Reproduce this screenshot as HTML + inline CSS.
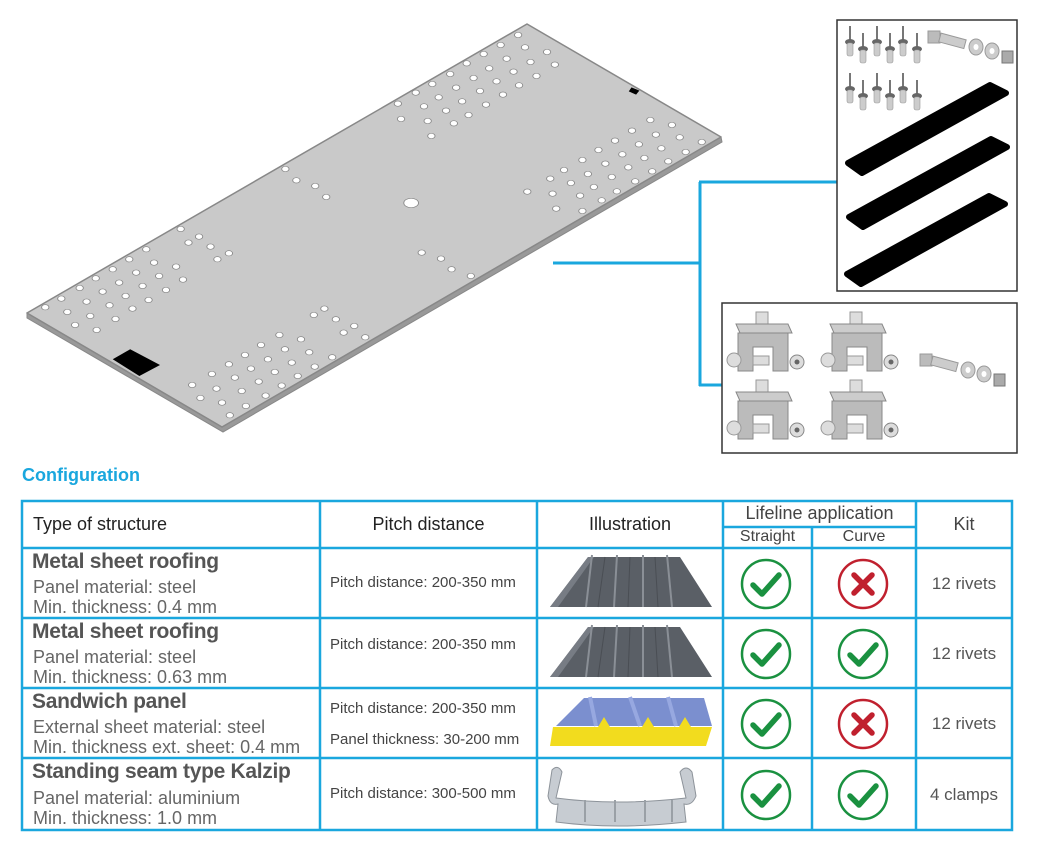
<!DOCTYPE html>
<html><head><meta charset="utf-8"><style>
body{margin:0;width:1040px;height:850px;background:#fff;position:relative;overflow:hidden;font-family:"Liberation Sans",sans-serif}
.a{position:absolute;white-space:nowrap}
.h{font-size:18px;color:#222}
.t{font-size:21px;font-weight:bold;color:#555;letter-spacing:-0.3px}
.s{font-size:18px;color:#666;line-height:20px}
.p{font-size:15px;color:#444}
.k{font-size:17px;color:#555}
</style></head><body>
<svg class="a" style="left:0;top:0" width="1040" height="850">
<defs>
<g id="rv"><line x1="0" y1="-16" x2="0" y2="0" stroke="#777" stroke-width="2"/><ellipse cx="0" cy="0" rx="5" ry="3" fill="#666"/><rect x="-3" y="1" width="6" height="13" rx="2" fill="#ccc" stroke="#999" stroke-width="0.6"/></g>
<g id="cl"><rect x="-4" y="-16" width="12" height="12" fill="#ddd" stroke="#999"/><polygon points="-24,-4 28,-4 32,5 -20,5" fill="#ccc" stroke="#888"/><path d="M-22,5 h50 v38 h-15 v-24 h-20 v24 h-15z" fill="#bbb" stroke="#888"/><circle cx="-26" cy="32" r="7" fill="#ddd" stroke="#999"/><circle cx="37" cy="34" r="7" fill="#ddd" stroke="#888"/><circle cx="37" cy="34" r="2.5" fill="#666"/><rect x="-7" y="28" width="16" height="9" fill="#ddd" stroke="#999"/></g>
<g id="bolt"><rect x="0" y="-6" width="12" height="12" fill="#bbb" stroke="#999"/><rect x="12" y="-4" width="26" height="9" fill="#ccc" stroke="#999" transform="rotate(15 12 0)"/><ellipse cx="48" cy="10" rx="7" ry="8" fill="#ccc" stroke="#999"/><ellipse cx="48" cy="10" rx="2.5" ry="3" fill="#fff"/><ellipse cx="64" cy="14" rx="7" ry="8" fill="#ccc" stroke="#999"/><ellipse cx="64" cy="14" rx="2.5" ry="3" fill="#fff"/><rect x="74" y="14" width="11" height="12" fill="#aaa" stroke="#777"/></g>
<g id="ok"><circle r="24" fill="#fff" stroke="#1a9140" stroke-width="2.5"/><path d="M-13,1 L-4,10 L13,-9" fill="none" stroke="#1a9140" stroke-width="5.5" stroke-linecap="round" stroke-linejoin="round"/></g>
<g id="no"><circle r="24" fill="#fff" stroke="#c0202e" stroke-width="2.5"/><path d="M-9,-9 L9,9 M9,-9 L-9,9" stroke="#c0202e" stroke-width="5.5" stroke-linecap="round"/></g>
<g id="sh"><polygon points="0,54 38,4 130,4 162,54" fill="#5a5f66"/><polygon points="0,54 38,4 44,4 8,54" fill="#777c84"/><path d="M42,2 L36,54 M67,2 L64,54 M93,2 L93,54 M117,2 L122,54" stroke="#8a8f96" stroke-width="2"/><path d="M55,4 L48,54 M80,4 L78,54 M105,4 L108,54" stroke="#4a4e54" stroke-width="1"/></g>
<polygon id="st" points="848,163 990,85 1006,93 862,173" fill="#000" stroke="#000" stroke-width="6" stroke-linejoin="round"/>
</defs>
<polygon points="721,137 722,142 223,432 27,318 27,313 222,427" fill="#999" stroke="#888"/>
<polygon points="527,24 721,137 222,427 27,313" fill="#c9c9c9" stroke="#888" stroke-width="1.5" stroke-linejoin="round"/>
<g transform="translate(20,20) scale(0.4591,0.3333)" fill="#fff" stroke="#888" stroke-width="2">
<ellipse cx="1085" cy="45" rx="8" ry="8"/><ellipse cx="1047" cy="75" rx="8" ry="8"/><ellipse cx="1100" cy="82" rx="8" ry="8"/><ellipse cx="1148" cy="96" rx="8" ry="8"/><ellipse cx="1010" cy="102" rx="8" ry="8"/><ellipse cx="1060" cy="116" rx="8" ry="8"/><ellipse cx="1112" cy="126" rx="8" ry="8"/><ellipse cx="1165" cy="134" rx="8" ry="8"/><ellipse cx="973" cy="130" rx="8" ry="8"/><ellipse cx="1022" cy="145" rx="8" ry="8"/><ellipse cx="1075" cy="155" rx="8" ry="8"/><ellipse cx="1125" cy="168" rx="8" ry="8"/><ellipse cx="937" cy="162" rx="8" ry="8"/><ellipse cx="988" cy="174" rx="8" ry="8"/><ellipse cx="1038" cy="184" rx="8" ry="8"/><ellipse cx="1087" cy="196" rx="8" ry="8"/><ellipse cx="898" cy="192" rx="8" ry="8"/><ellipse cx="950" cy="203" rx="8" ry="8"/><ellipse cx="1002" cy="213" rx="8" ry="8"/><ellipse cx="1052" cy="224" rx="8" ry="8"/><ellipse cx="862" cy="218" rx="8" ry="8"/><ellipse cx="912" cy="232" rx="8" ry="8"/><ellipse cx="963" cy="244" rx="8" ry="8"/><ellipse cx="1015" cy="254" rx="8" ry="8"/><ellipse cx="823" cy="251" rx="8" ry="8"/><ellipse cx="880" cy="259" rx="8" ry="8"/><ellipse cx="928" cy="272" rx="8" ry="8"/><ellipse cx="977" cy="285" rx="8" ry="8"/><ellipse cx="830" cy="297" rx="8" ry="8"/><ellipse cx="888" cy="303" rx="8" ry="8"/><ellipse cx="945" cy="310" rx="8" ry="8"/><ellipse cx="896" cy="348" rx="8" ry="8"/>
<ellipse cx="1373" cy="300" rx="8" ry="8"/><ellipse cx="1420" cy="315" rx="8" ry="8"/><ellipse cx="1333" cy="332" rx="8" ry="8"/><ellipse cx="1385" cy="344" rx="8" ry="8"/><ellipse cx="1437" cy="352" rx="8" ry="8"/><ellipse cx="1485" cy="366" rx="8" ry="8"/><ellipse cx="1296" cy="362" rx="8" ry="8"/><ellipse cx="1348" cy="373" rx="8" ry="8"/><ellipse cx="1397" cy="385" rx="8" ry="8"/><ellipse cx="1450" cy="396" rx="8" ry="8"/><ellipse cx="1260" cy="390" rx="8" ry="8"/><ellipse cx="1312" cy="403" rx="8" ry="8"/><ellipse cx="1360" cy="414" rx="8" ry="8"/><ellipse cx="1412" cy="424" rx="8" ry="8"/><ellipse cx="1225" cy="420" rx="8" ry="8"/><ellipse cx="1275" cy="431" rx="8" ry="8"/><ellipse cx="1325" cy="442" rx="8" ry="8"/><ellipse cx="1377" cy="454" rx="8" ry="8"/><ellipse cx="1185" cy="450" rx="8" ry="8"/><ellipse cx="1237" cy="462" rx="8" ry="8"/><ellipse cx="1289" cy="471" rx="8" ry="8"/><ellipse cx="1340" cy="484" rx="8" ry="8"/><ellipse cx="1155" cy="476" rx="8" ry="8"/><ellipse cx="1200" cy="489" rx="8" ry="8"/><ellipse cx="1250" cy="501" rx="8" ry="8"/><ellipse cx="1300" cy="514" rx="8" ry="8"/><ellipse cx="1105" cy="515" rx="8" ry="8"/><ellipse cx="1160" cy="521" rx="8" ry="8"/><ellipse cx="1220" cy="527" rx="8" ry="8"/><ellipse cx="1267" cy="541" rx="8" ry="8"/><ellipse cx="1168" cy="566" rx="8" ry="8"/><ellipse cx="1225" cy="573" rx="8" ry="8"/>
<ellipse cx="578" cy="447" rx="8" ry="8"/><ellipse cx="602" cy="481" rx="8" ry="8"/><ellipse cx="643" cy="498" rx="8" ry="8"/><ellipse cx="667" cy="531" rx="8" ry="8"/><ellipse cx="852" cy="549" rx="16" ry="14"/>
<ellipse cx="875" cy="698" rx="8" ry="8"/><ellipse cx="917" cy="716" rx="8" ry="8"/><ellipse cx="940" cy="748" rx="8" ry="8"/><ellipse cx="982" cy="768" rx="8" ry="8"/>
<ellipse cx="350" cy="627" rx="8" ry="8"/><ellipse cx="390" cy="650" rx="8" ry="8"/><ellipse cx="367" cy="668" rx="8" ry="8"/><ellipse cx="415" cy="680" rx="8" ry="8"/><ellipse cx="455" cy="700" rx="8" ry="8"/><ellipse cx="430" cy="718" rx="8" ry="8"/><ellipse cx="275" cy="688" rx="8" ry="8"/><ellipse cx="238" cy="718" rx="8" ry="8"/><ellipse cx="292" cy="728" rx="8" ry="8"/><ellipse cx="340" cy="740" rx="8" ry="8"/><ellipse cx="202" cy="748" rx="8" ry="8"/><ellipse cx="253" cy="758" rx="8" ry="8"/><ellipse cx="303" cy="768" rx="8" ry="8"/><ellipse cx="355" cy="779" rx="8" ry="8"/><ellipse cx="165" cy="775" rx="8" ry="8"/><ellipse cx="216" cy="788" rx="8" ry="8"/><ellipse cx="267" cy="798" rx="8" ry="8"/><ellipse cx="318" cy="810" rx="8" ry="8"/><ellipse cx="130" cy="804" rx="8" ry="8"/><ellipse cx="180" cy="815" rx="8" ry="8"/><ellipse cx="230" cy="828" rx="8" ry="8"/><ellipse cx="280" cy="840" rx="8" ry="8"/><ellipse cx="90" cy="836" rx="8" ry="8"/><ellipse cx="145" cy="845" rx="8" ry="8"/><ellipse cx="195" cy="856" rx="8" ry="8"/><ellipse cx="245" cy="866" rx="8" ry="8"/><ellipse cx="55" cy="862" rx="8" ry="8"/><ellipse cx="103" cy="876" rx="8" ry="8"/><ellipse cx="153" cy="888" rx="8" ry="8"/><ellipse cx="208" cy="897" rx="8" ry="8"/><ellipse cx="120" cy="915" rx="8" ry="8"/><ellipse cx="167" cy="930" rx="8" ry="8"/>
<ellipse cx="663" cy="866" rx="8" ry="8"/><ellipse cx="640" cy="885" rx="8" ry="8"/><ellipse cx="688" cy="898" rx="8" ry="8"/><ellipse cx="728" cy="918" rx="8" ry="8"/><ellipse cx="705" cy="938" rx="8" ry="8"/><ellipse cx="752" cy="952" rx="8" ry="8"/><ellipse cx="565" cy="945" rx="8" ry="8"/><ellipse cx="612" cy="958" rx="8" ry="8"/><ellipse cx="525" cy="975" rx="8" ry="8"/><ellipse cx="577" cy="988" rx="8" ry="8"/><ellipse cx="630" cy="997" rx="8" ry="8"/><ellipse cx="680" cy="1012" rx="8" ry="8"/><ellipse cx="490" cy="1005" rx="8" ry="8"/><ellipse cx="540" cy="1018" rx="8" ry="8"/><ellipse cx="592" cy="1028" rx="8" ry="8"/><ellipse cx="642" cy="1040" rx="8" ry="8"/><ellipse cx="455" cy="1033" rx="8" ry="8"/><ellipse cx="503" cy="1046" rx="8" ry="8"/><ellipse cx="555" cy="1056" rx="8" ry="8"/><ellipse cx="605" cy="1068" rx="8" ry="8"/><ellipse cx="418" cy="1062" rx="8" ry="8"/><ellipse cx="468" cy="1073" rx="8" ry="8"/><ellipse cx="520" cy="1085" rx="8" ry="8"/><ellipse cx="570" cy="1097" rx="8" ry="8"/><ellipse cx="375" cy="1095" rx="8" ry="8"/><ellipse cx="428" cy="1106" rx="8" ry="8"/><ellipse cx="483" cy="1113" rx="8" ry="8"/><ellipse cx="535" cy="1127" rx="8" ry="8"/><ellipse cx="393" cy="1134" rx="8" ry="8"/><ellipse cx="440" cy="1148" rx="8" ry="8"/><ellipse cx="492" cy="1158" rx="8" ry="8"/><ellipse cx="457" cy="1186" rx="8" ry="8"/>
<polygon points="240,988 305,1035 260,1068 202,1018" fill="#000" stroke="none"/>
<polygon points="1332,202 1349,212 1342,224 1326,214" fill="#000" stroke="none"/>
</g>
<path d="M553,263 H700 M700,182 V386 M699,182 H837 M699,385 H722" stroke="#1aa7de" stroke-width="3" fill="none"/>
<rect x="837" y="20" width="180" height="271" fill="#fff" stroke="#333" stroke-width="1.5"/>
<use href="#rv" x="850" y="42"/><use href="#rv" x="863" y="49"/><use href="#rv" x="877" y="42"/><use href="#rv" x="890" y="49"/><use href="#rv" x="903" y="42"/><use href="#rv" x="917" y="49"/>
<use href="#rv" x="850" y="89"/><use href="#rv" x="863" y="96"/><use href="#rv" x="877" y="89"/><use href="#rv" x="890" y="96"/><use href="#rv" x="903" y="89"/><use href="#rv" x="917" y="96"/>
<use href="#bolt" x="928" y="37"/>
<use href="#st"/><use href="#st" x="1" y="54"/><use href="#st" x="-1" y="111"/>
<rect x="722" y="303" width="295" height="150" fill="#fff" stroke="#333" stroke-width="1.5"/>
<use href="#cl" x="760" y="328"/><use href="#cl" x="854" y="328"/><use href="#cl" x="760" y="396"/><use href="#cl" x="854" y="396"/>
<use href="#bolt" x="920" y="360"/>
<g stroke="#1aa7de" stroke-width="2.5" fill="none">
<rect x="22" y="501" width="990" height="329"/>
<path d="M22,548 H1012 M22,618 H1012 M22,688 H1012 M22,758 H1012 M723,527 H916 M320,501 V830 M537,501 V830 M723,501 V830 M916,501 V830 M812,527 V830"/>
</g>
<use href="#sh" x="550" y="553"/><use href="#sh" x="550" y="623"/>
<g>
<polygon points="556,726 584,698 704,698 712,726" fill="#7b8fcf"/>
<path d="M590,697 L596,726 M630,697 L640,726 M668,697 L676,726" stroke="#97a8e0" stroke-width="4"/>
<polygon points="553,727 712,727 706,746 550,746" fill="#f2dc1e"/>
<path d="M598,727 l6,-10 6,10z M642,727 l6,-10 6,10z M679,727 l6,-10 6,10z" fill="#f2dc1e"/>
</g>
<g>
<path d="M552,770 q6,-6 10,2 l-6,26 q60,8 130,0 l-6,-26 q6,-8 12,0 l4,24 q-4,10 -12,8 l2,18 q-70,8 -130,0 l2,-18 q-8,2 -10,-8z" fill="#c7ccd2" stroke="#8d939a"/>
<path d="M585,800 v22 M615,800 v22 M645,800 v22 M672,800 v22" stroke="#9aa0a6" stroke-width="2"/>
</g>
<use href="#ok" x="766" y="584"/><use href="#no" x="863" y="584"/>
<use href="#ok" x="766" y="654"/><use href="#ok" x="863" y="654"/>
<use href="#ok" x="766" y="724"/><use href="#no" x="863" y="724"/>
<use href="#ok" x="766" y="795"/><use href="#ok" x="863" y="795"/>
</svg>
<div class="a" style="left:22px;top:465px;font-size:18px;font-weight:bold;color:#1aa7de">Configuration</div>
<div class="a h" style="left:33px;top:514px">Type of structure</div>
<div class="a h" style="left:320px;width:217px;text-align:center;top:514px">Pitch distance</div>
<div class="a h" style="left:537px;width:186px;text-align:center;top:514px">Illustration</div>
<div class="a h" style="left:723px;width:193px;text-align:center;top:503px;color:#444">Lifeline application</div>
<div class="a" style="left:723px;width:89px;text-align:center;top:528px;font-size:16px;color:#444">Straight</div>
<div class="a" style="left:812px;width:104px;text-align:center;top:528px;font-size:16px;color:#444">Curve</div>
<div class="a h" style="left:916px;width:96px;text-align:center;top:514px;color:#444">Kit</div>

<div class="a t" style="left:32px;top:550px">Metal sheet roofing</div>
<div class="a s" style="left:33px;top:577px">Panel material: steel<br>Min. thickness: 0.4 mm</div>
<div class="a t" style="left:32px;top:620px">Metal sheet roofing</div>
<div class="a s" style="left:33px;top:647px">Panel material: steel<br>Min. thickness: 0.63 mm</div>
<div class="a t" style="left:32px;top:690px">Sandwich panel</div>
<div class="a s" style="left:33px;top:717px">External sheet material: steel<br>Min. thickness ext. sheet: 0.4 mm</div>
<div class="a t" style="left:32px;top:760px">Standing seam type Kalzip</div>
<div class="a s" style="left:33px;top:788px">Panel material: aluminium<br>Min. thickness: 1.0 mm</div>

<div class="a p" style="left:330px;top:574px">Pitch distance: 200-350 mm</div>
<div class="a p" style="left:330px;top:636px">Pitch distance: 200-350 mm</div>
<div class="a p" style="left:330px;top:700px">Pitch distance: 200-350 mm</div>
<div class="a p" style="left:330px;top:731px">Panel thickness: 30-200 mm</div>
<div class="a p" style="left:330px;top:785px">Pitch distance: 300-500 mm</div>

<div class="a k" style="left:916px;width:96px;text-align:center;top:574px">12 rivets</div>
<div class="a k" style="left:916px;width:96px;text-align:center;top:644px">12 rivets</div>
<div class="a k" style="left:916px;width:96px;text-align:center;top:714px">12 rivets</div>
<div class="a k" style="left:916px;width:96px;text-align:center;top:785px">4 clamps</div>
</body></html>
